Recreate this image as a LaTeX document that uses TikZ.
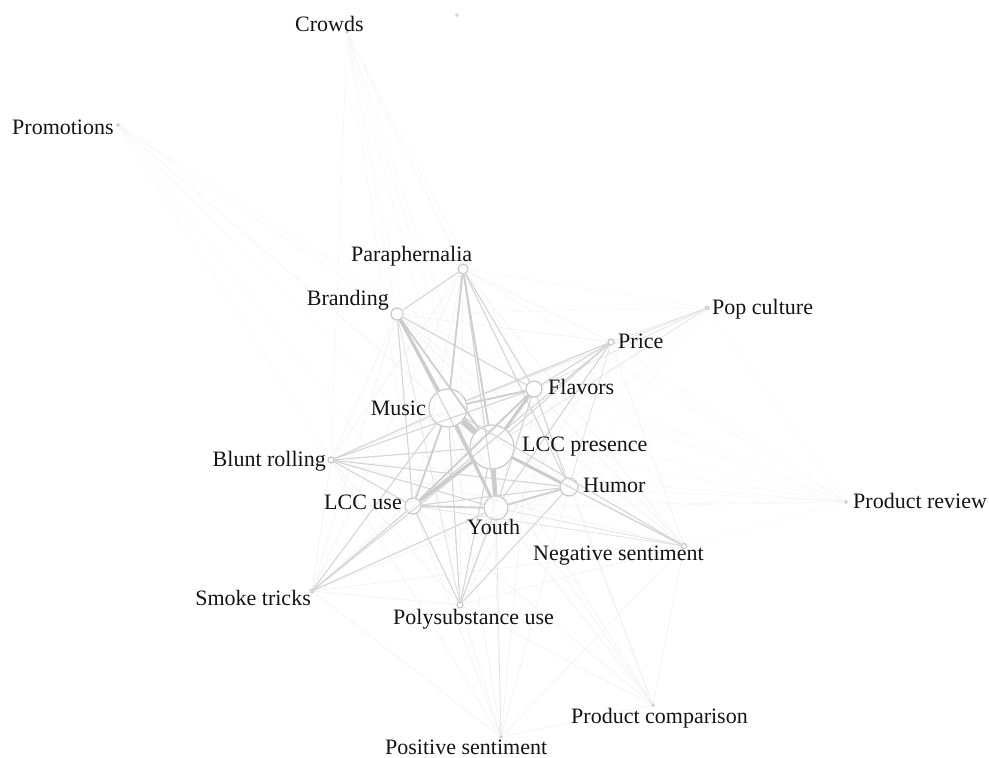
\documentclass[tikz,border=0pt]{standalone}
\usepackage{fontspec}
\setmainfont{Liberation Serif}
\begin{document}
\begin{tikzpicture}[x=1pt,y=-1pt,
 vtx/.style={circle, draw=black!22, fill=white, line width=1.2pt, inner sep=0pt},
 dotv/.style={circle, draw=black!25, fill=black!12, line width=0.6pt, inner sep=0pt},
 lab/.style={anchor=base west, inner sep=0pt, font=\fontsize{22}{25}\selectfont, text=black!92},
 ef/.style={draw=black!4, line width=0.45pt},
 e0/.style={draw=black!7, line width=0.45pt},
 e1/.style={draw=black!11, line width=0.7pt},
 e2/.style={draw=black!16, line width=1.1pt},
 e3/.style={draw=black!19, line width=1.9pt},
 e4/.style={draw=black!20, line width=3pt},
 e5/.style={draw=black!20, line width=4.5pt},
 e6/.style={draw=black!20, line width=6.5pt}]
\useasboundingbox (0,0) rectangle (989,758);
% vertices
\node[vtx, minimum size=44pt] (lcp) at (492,447) {};
\node[vtx, minimum size=38pt] (mus) at (448,408) {};
\node[vtx, minimum size=24pt] (you) at (496,508) {};
\node[vtx, minimum size=18pt] (hum) at (569,487) {};
\node[vtx, minimum size=16pt] (fla) at (534,389) {};
\node[vtx, minimum size=16pt] (lcu) at (413,506) {};
\node[vtx, minimum size=12pt] (bra) at (397,314) {};
\node[vtx, minimum size=10pt] (par) at (463,269) {};
\node[vtx, minimum size=6pt] (pri) at (611,342) {};
\node[vtx, minimum size=6pt] (blu) at (331,460) {};
\node[vtx, minimum size=6pt] (pol) at (460,605) {};
\node[vtx, minimum size=5pt] (neg) at (684,546) {};
\node[dotv, minimum size=4pt] (smo) at (312,591) {};
\node[dotv, minimum size=4pt] (pop) at (707,308) {};
\node[dotv, minimum size=3pt] (rev) at (846,502) {};
\node[dotv, minimum size=3pt] (cmp) at (653,705) {};
\node[dotv, minimum size=2.5pt] (pos) at (501,737) {};
\node[dotv, minimum size=2.5pt] (cr) at (347,32) {};
\node[dotv, minimum size=3pt] (pro) at (118,125) {};
\node[dotv, minimum size=3pt, draw=black!20] (dot) at (457,15) {};
% faint web among core nodes
\foreach \a [count=\i] in {mus,lcp,you,hum,fla,lcu,bra,par,pri,blu,pol,smo,neg}{
  \foreach \b [count=\j] in {mus,lcp,you,hum,fla,lcu,bra,par,pri,blu,pol,smo,neg}{
    \ifnum\j>\i \draw[e0] (\a) -- (\b); \fi
  }
}
% peripheral faint edges
\foreach \b in {mus,lcp,bra,par,you,lcu,fla,hum,blu,pol} \draw[ef] (cr) -- (\b);
\foreach \b in {mus,lcp,bra,lcu,you,blu,fla} \draw[ef] (pro) -- (\b);
\foreach \b in {lcu,bra,par,you,hum,blu} \draw[ef] (pop) -- (\b);
\foreach \b in {pri,fla,mus,lcp} \draw[e1] (pop) -- (\b);
\foreach \b in {lcp,mus,fla,hum,you,pri,par,bra,neg,lcu,pop,blu} \draw[ef] (rev) -- (\b);
\foreach \b in {hum,lcp,you,lcu,mus,neg,pol,fla,pos} \draw[e0] (cmp) -- (\b);
\foreach \b in {pol,lcu,mus,lcp,hum,smo,fla,neg,blu} \draw[e0] (pos) -- (\b);
\draw[e1] (pos) -- (you);
% medium edges
\foreach \a/\b in {bra/par, par/you, par/hum, par/fla, bra/fla, bra/you, bra/lcu,
  lcu/hum, fla/you, fla/hum, fla/pri, lcp/pri, lcu/pri, you/pri, mus/pri,
  blu/mus, blu/lcp, blu/lcu, blu/you, blu/hum, blu/fla,
  smo/lcu, smo/mus, smo/lcp, smo/you,
  pol/lcu, pol/mus, pol/lcp, pol/you, pol/hum,
  neg/hum, neg/lcp, neg/mus}
  \draw[e2] (\a) -- (\b);
\foreach \a/\b in {neg/you, neg/lcu, hum/pri, pol/bra}
  \draw[e1] (\a) -- (\b);
% strong edges
\foreach \a/\b in {mus/lcu, mus/par, mus/fla, bra/lcp, par/lcp, you/hum, lcu/you, fla/lcu}
  \draw[e3] (\a) -- (\b);
\foreach \a/\b in {mus/you, lcp/hum, lcp/fla, lcp/lcu, mus/bra}
  \draw[e4] (\a) -- (\b);
\draw[e5] (lcp) -- (you);
\draw[e6] (mus) -- (lcp);
% labels
\node[lab] (l-cr) at (295,31) {Crowds};
\node[lab] (l-pro) at (12,134) {Promotions};
\node[lab] (l-par) at (351,261) {Paraphernalia};
\node[lab, anchor=base east] (l-bra) at (389,305) {Branding};
\node[lab, anchor=base east] (l-mus) at (426,415) {Music};
\node[lab] (l-fla) at (548,394) {Flavors};
\node[lab] (l-lcp) at (522,451) {LCC presence};
\node[lab] (l-hum) at (583,492) {Humor};
\node[lab, anchor=base east] (l-lcu) at (402,509) {LCC use};
\node[lab] (l-you) at (467,534) {Youth};
\node[lab, anchor=base east] (l-blu) at (326,466) {Blunt rolling};
\node[lab, anchor=base east] (l-smo) at (311,605) {Smoke tricks};
\node[lab] (l-pri) at (618,348) {Price};
\node[lab] (l-pop) at (712,314) {Pop culture};
\node[lab] (l-rev) at (853,508) {Product review};
\node[lab] (l-neg) at (533,560) {Negative sentiment};
\node[lab] (l-pol) at (393,624) {Polysubstance use};
\node[lab] (l-cmp) at (571,723) {Product comparison};
\node[lab] (l-pos) at (385,754) {Positive sentiment};
\end{tikzpicture}
\end{document}
